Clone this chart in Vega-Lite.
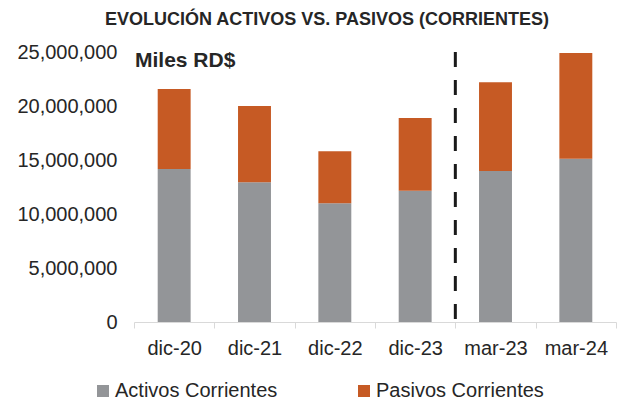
{
  "$schema": "https://vega.github.io/schema/vega-lite/v6.json",
  "width": 482,
  "height": 270,
  "autosize": "none",
  "padding": {"left": 134, "top": 52, "right": 7, "bottom": 80},
  "background": "white",
  "config": {
    "view": {"stroke": null},
    "font": "Liberation Sans",
    "axis": {"labelFont": "Liberation Sans", "labelColor": "#262626", "grid": false}
  },
  "title": {
    "text": "EVOLUCIÓN ACTIVOS VS. PASIVOS (CORRIENTES)",
    "font": "Liberation Sans",
    "fontSize": 18,
    "fontWeight": "bold",
    "color": "#262626",
    "anchor": "middle",
    "frame": "group",
    "dx": -48,
    "baseline": "alphabetic",
    "offset": -1
  },
  "data": {
    "values": [
      {"periodo": "dic-20", "serie": "Activos Corrientes", "valor": 14170000},
      {"periodo": "dic-20", "serie": "Pasivos Corrientes", "valor": 7400000},
      {"periodo": "dic-21", "serie": "Activos Corrientes", "valor": 12940000},
      {"periodo": "dic-21", "serie": "Pasivos Corrientes", "valor": 7060000},
      {"periodo": "dic-22", "serie": "Activos Corrientes", "valor": 11000000},
      {"periodo": "dic-22", "serie": "Pasivos Corrientes", "valor": 4800000},
      {"periodo": "dic-23", "serie": "Activos Corrientes", "valor": 12160000},
      {"periodo": "dic-23", "serie": "Pasivos Corrientes", "valor": 6740000},
      {"periodo": "mar-23", "serie": "Activos Corrientes", "valor": 13980000},
      {"periodo": "mar-23", "serie": "Pasivos Corrientes", "valor": 8220000},
      {"periodo": "mar-24", "serie": "Activos Corrientes", "valor": 15120000},
      {"periodo": "mar-24", "serie": "Pasivos Corrientes", "valor": 9780000}
    ]
  },
  "encoding": {
    "x": {
      "field": "periodo",
      "type": "nominal",
      "sort": ["dic-20", "dic-21", "dic-22", "dic-23", "mar-23", "mar-24"],
      "scale": {"paddingInner": 0, "paddingOuter": 0},
      "axis": {
        "title": null,
        "labelAngle": 0,
        "labelFontSize": 20,
        "labelPadding": 10,
        "tickBand": "extent",
        "tickSize": 6,
        "tickColor": "#d9d9d9",
        "domainColor": "#d9d9d9",
        "domainWidth": 1
      }
    }
  },
  "layer": [
    {
      "mark": {"type": "bar", "width": {"band": 0.41}},
      "encoding": {
        "y": {
          "field": "valor",
          "type": "quantitative",
          "stack": "zero",
          "scale": {"domain": [0, 25000000], "nice": false},
          "axis": {
            "title": null,
            "values": [0, 5000000, 10000000, 15000000, 20000000, 25000000],
            "format": ",d",
            "labelFontSize": 20,
            "labelPadding": 17,
            "ticks": false,
            "domain": false
          }
        },
        "color": {
          "field": "serie",
          "type": "nominal",
          "scale": {"domain": ["Activos Corrientes", "Pasivos Corrientes"], "range": ["#939598", "#C65A24"]},
          "legend": {
            "title": null,
            "orient": "none",
            "direction": "horizontal",
            "legendX": -41,
            "legendY": 329,
            "padding": 0,
            "symbolType": "square",
            "symbolSize": 144,
            "symbolStrokeWidth": 0,
            "labelFont": "Liberation Sans",
            "labelFontSize": 20,
            "labelColor": "#262626",
            "labelOffset": 2,
            "labelLimit": 400,
            "columnPadding": 76
          }
        },
        "order": {"field": "serie", "sort": "ascending"}
      }
    },
    {
      "data": {"values": [{}]},
      "mark": {"type": "rule", "strokeDash": [15, 13], "strokeWidth": 3, "color": "#1a1a1a"},
      "encoding": {
        "x": {"datum": "mar-23", "bandPosition": 0}
      }
    },
    {
      "data": {"values": [{}]},
      "mark": {"type": "text", "align": "left", "baseline": "middle", "fontSize": 21, "fontWeight": "bold", "color": "#262626", "dx": 1},
      "encoding": {
        "x": {"datum": "dic-20", "bandPosition": 0},
        "y": {"datum": 24200000, "type": "quantitative"},
        "text": {"value": "Miles RD$"}
      }
    }
  ]
}
